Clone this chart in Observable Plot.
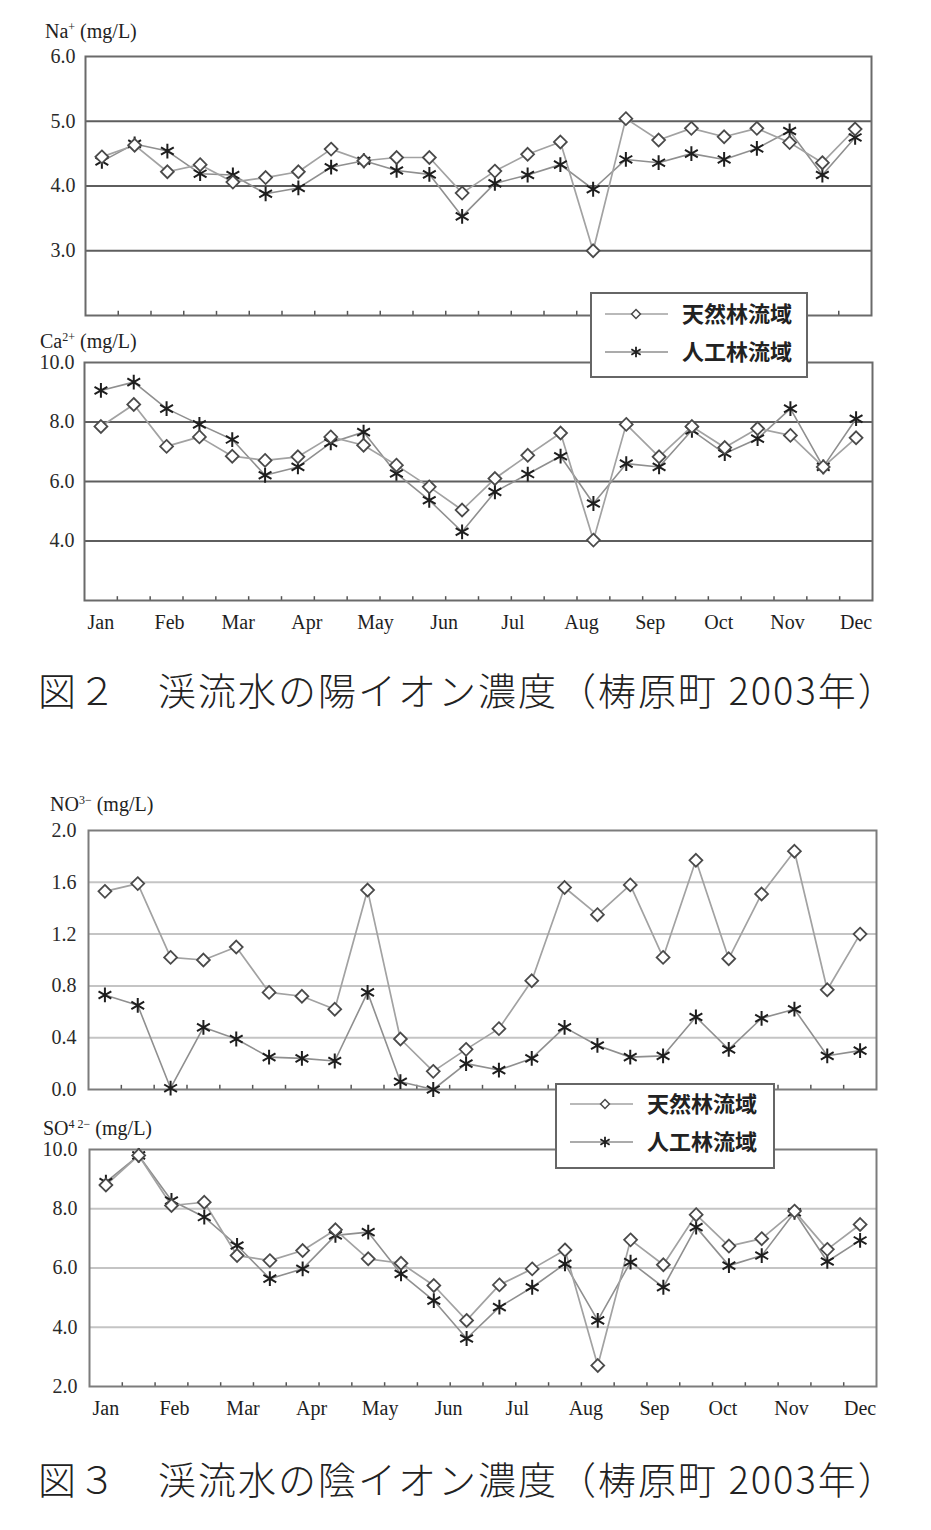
<!DOCTYPE html>
<html><head><meta charset="utf-8">
<script src="https://cdn.jsdelivr.net/npm/d3@7"></script>
<script src="https://cdn.jsdelivr.net/npm/@observablehq/plot@0.6"></script>
<style>
body{margin:0;background:#fff;}
#root{position:relative;width:931px;height:1530px;overflow:hidden;background:#fff;}
.abs{position:absolute;}
.lab{font-family:"Liberation Serif","DejaVu Serif",serif;font-size:20px;line-height:1;color:#222;white-space:nowrap;}
.lab sup{font-size:12px;vertical-align:7px;line-height:0;}
.title{font-family:"Noto Sans CJK JP",sans-serif;font-weight:300;font-size:38px;letter-spacing:2px;line-height:1;color:#222;white-space:nowrap;}
.legend{background:#fff;border:2px solid #666;box-sizing:border-box;}
.legend text{font-family:"Noto Sans CJK JP",sans-serif;font-weight:700;font-size:22px;fill:#222;}
</style></head><body><div id="root"></div>
<script>
// ---- data (24 semi-monthly samples, 2003) ----
const sampleIndex = d3.range(24);
const monthLabels = ["Jan","Feb","Mar","Apr","May","Jun","Jul","Aug","Sep","Oct","Nov","Dec"];
const seriesNames = ["天然林流域","人工林流域"];

const naNatural = [4.45,4.63,4.22,4.33,4.06,4.13,4.22,4.57,4.39,4.44,4.44,3.89,4.23,4.49,4.68,3.00,5.04,4.71,4.89,4.76,4.89,4.67,4.36,4.88];
const naPlant   = [4.38,4.65,4.54,4.19,4.17,3.88,3.97,4.29,4.39,4.24,4.18,3.53,4.04,4.17,4.33,3.95,4.41,4.36,4.50,4.41,4.58,4.85,4.17,4.75];
const caNatural = [7.85,8.59,7.18,7.50,6.85,6.71,6.83,7.50,7.22,6.55,5.82,5.04,6.10,6.88,7.63,4.03,7.92,6.83,7.85,7.14,7.78,7.55,6.49,7.47];
const caPlant   = [9.06,9.34,8.45,7.92,7.41,6.21,6.49,7.30,7.66,6.27,5.37,4.31,5.65,6.25,6.85,5.26,6.60,6.49,7.72,6.94,7.44,8.45,6.49,8.11];
const no3Natural = [1.53,1.59,1.02,1.00,1.10,0.75,0.72,0.62,1.54,0.39,0.14,0.31,0.47,0.84,1.56,1.35,1.58,1.02,1.77,1.01,1.51,1.84,0.77,1.20];
const no3Plant   = [0.73,0.65,0.01,0.48,0.39,0.25,0.24,0.22,0.75,0.06,0.00,0.20,0.15,0.24,0.48,0.34,0.25,0.26,0.56,0.31,0.55,0.62,0.26,0.30];
const so4Natural = [8.80,9.80,8.11,8.22,6.42,6.25,6.59,7.29,6.31,6.16,5.41,4.23,5.43,5.97,6.61,2.71,6.95,6.11,7.80,6.74,6.99,7.92,6.63,7.47];
const so4Plant   = [8.90,9.80,8.28,7.72,6.76,5.64,5.97,7.10,7.21,5.80,4.90,3.62,4.68,5.35,6.14,4.23,6.20,5.35,7.38,6.08,6.42,7.88,6.22,6.93];

const naTicks = [3,4,5,6];
const caTicks = [4,6,8,10];
const no3Ticks = [0,0.4,0.8,1.2,1.6,2.0];
const so4Ticks = [2,4,6,8,10];

// ---- layout helpers ----
const root = document.getElementById("root");
const monthPos = monthLabels.map((d,i) => i*23/11);
const boundaries = d3.range(23).map(i => i + 0.5);
const serif = "Liberation Serif, DejaVu Serif, serif";

function panel(o){
  const nat = sampleIndex.map(i => ({i, v:o.nat[i]}));
  const pla = sampleIndex.map(i => ({i, v:o.pla[i]}));
  const [y0,y1] = o.domain;
  const marks = [
    Plot.gridY(o.ticks.filter(t => t > y0 && t < y1), {stroke:o.grid, strokeOpacity:1, strokeWidth:o.gridW}),
    Plot.ruleX(boundaries, {y1:y0, y2:y0 + (y1-y0)*0.016, stroke:"#555", strokeWidth:1.5}),
    Plot.frame({stroke:o.frame, strokeWidth:2}),
    Plot.line(pla, {x:"i", y:"v", stroke:"#8f8f8f", strokeWidth:1.6}),
    Plot.line(nat, {x:"i", y:"v", stroke:"#a2a2a2", strokeWidth:1.7}),
    Plot.dot(pla, {x:"i", y:"v", symbol:"asterisk", r:7, stroke:"#1e1e1e", strokeWidth:2}),
    Plot.dot(nat, {x:"i", y:"v", symbol:"diamond2", r:5.8, stroke:"#4a4a4a", fill:"#fff", strokeWidth:1.8}),
    Plot.axisY(o.ticks, {label:null, tickSize:0, tickPadding:o.padY, tickFormat:d3.format(".1f"), fontSize:20, fontFamily:serif, fill:"#2a2a2a"})
  ];
  if (o.months) marks.push(Plot.axisX(monthPos, {label:null, tickSize:0, tickPadding:14, fontSize:20, fontFamily:serif, fill:"#1e1e1e",
      tickFormat: d => monthLabels[Math.round(d*11/23)]}));
  const chart = Plot.plot({
    width:931, height:o.height,
    marginTop:o.mt, marginBottom:o.mb, marginLeft:o.ml, marginRight:o.mr,
    x:{domain:[-0.5,23.5], label:null, axis: o.months ? undefined : null},
    y:{domain:o.domain, label:null},
    style:{fontFamily:serif, fontSize:"20px", background:"transparent", overflow:"visible"},
    marks
  });
  const div = document.createElement("div");
  div.className = "abs";
  div.style.left = "0px"; div.style.top = o.top + "px";
  div.appendChild(chart);
  root.appendChild(div);
}

panel({nat:naNatural, pla:naPlant, domain:[2,6], ticks:naTicks, top:40, height:300, mt:16, mb:25, ml:85, mr:60,
  grid:"#5e5e5e", gridW:2, frame:"#6a6a6a", padY:10, months:false});
panel({nat:caNatural, pla:caPlant, domain:[2,10], ticks:caTicks, top:345, height:300, mt:17, mb:45, ml:84, mr:59,
  grid:"#5e5e5e", gridW:2, frame:"#6a6a6a", padY:10, months:true});
panel({nat:no3Natural, pla:no3Plant, domain:[0,2], ticks:no3Ticks, top:815, height:300, mt:15, mb:26, ml:88, mr:55,
  grid:"#c4c4c4", gridW:2, frame:"#7c7c7c", padY:12, months:false});
panel({nat:so4Natural, pla:so4Plant, domain:[2,10], ticks:so4Ticks, top:1135, height:300, mt:14, mb:49, ml:89, mr:55,
  grid:"#c4c4c4", gridW:2, frame:"#7c7c7c", padY:12, months:true});

// ---- text ----
function addHTML(cls, left, top, html){
  const d = document.createElement("div");
  d.className = "abs " + cls; d.style.left = left+"px"; d.style.top = top+"px";
  d.innerHTML = html; root.appendChild(d); return d;
}
addHTML("lab", 45, 21, "Na<sup>+</sup> (mg/L)");
addHTML("lab", 40, 331, "Ca<sup>2+</sup> (mg/L)");
addHTML("lab", 50, 794, "NO<sup>3−</sup> (mg/L)");
addHTML("lab", 43, 1118, "SO<sup>4 2−</sup> (mg/L)");
addHTML("title", 38, 670, "図２　渓流水の陽イオン濃度（梼原町 2003年）");
addHTML("title", 38, 1459, "図３　渓流水の陰イオン濃度（梼原町 2003年）");

// ---- legends ----
function legend(left, top, w, h, rows, lineX0, lineX1, markX, textX){
  const d = document.createElement("div");
  d.className = "abs legend";
  d.style.left = left+"px"; d.style.top = top+"px"; d.style.width = w+"px"; d.style.height = h+"px";
  d.style.zIndex = 5;
  const svg = d3.create("svg").attr("width", w-4).attr("height", h-4).style("display","block");
  const specs = [
    {sym:d3.symbolDiamond2, size:50, stroke:"#4a4a4a", fill:"#fff", sw:1.5, line:"#a2a2a2"},
    {sym:d3.symbolAsterisk, size:80, stroke:"#1e1e1e", fill:"none", sw:1.8, line:"#8f8f8f"}
  ];
  seriesNames.forEach((name, k) => {
    const y = rows[k], s = specs[k];
    svg.append("line").attr("x1", lineX0).attr("x2", lineX1).attr("y1", y).attr("y2", y)
      .attr("stroke", s.line).attr("stroke-width", 1.6);
    svg.append("path").attr("d", d3.symbol(s.sym, s.size)()).attr("transform", `translate(${markX},${y})`)
      .attr("stroke", s.stroke).attr("fill", s.fill).attr("stroke-width", s.sw);
    svg.append("text").attr("x", textX).attr("y", y).attr("dy", "0.36em").text(name);
  });
  d.appendChild(svg.node());
  root.appendChild(d);
}
legend(590, 292, 218, 86, [20, 58], 13, 76, 44, 90);
legend(555, 1083, 220, 86, [19, 57], 13, 76, 48, 90);
</script></body></html>
